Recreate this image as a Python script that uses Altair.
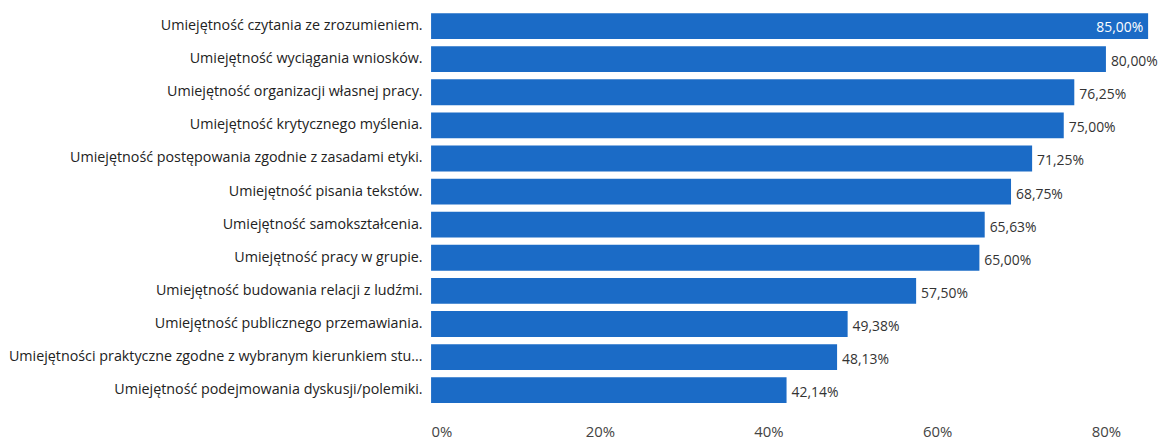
import altair as alt
import pandas as pd

categories = [
    "Umiejętność czytania ze zrozumieniem.",
    "Umiejętność wyciągania wniosków.",
    "Umiejętność organizacji własnej pracy.",
    "Umiejętność krytycznego myślenia.",
    "Umiejętność postępowania zgodnie z zasadami etyki.",
    "Umiejętność pisania tekstów.",
    "Umiejętność samokształcenia.",
    "Umiejętność pracy w grupie.",
    "Umiejętność budowania relacji z ludźmi.",
    "Umiejętność publicznego przemawiania.",
    "Umiejętności praktyczne zgodne z wybranym kierunkiem stu...",
    "Umiejętność podejmowania dyskusji/polemiki.",
]
values = [85.00, 80.00, 76.25, 75.00, 71.25, 68.75, 65.63, 65.00, 57.50, 49.38, 48.13, 42.14]
tick_values = [0, 20, 40, 60, 80]

df = pd.DataFrame({
    "cat": categories,
    "val": values,
    "label": [f"{v:.2f}".replace(".", ",") + "%" for v in values],
})
df["inside"] = df["val"] >= 84

FONT = "Open Sans"
BLUE = "#1B6BC6"

x = alt.X("val:Q", scale=alt.Scale(domain=[0, 85], nice=False),
          axis=alt.Axis(values=tick_values, labelExpr="datum.value + '%'", title=None,
                        domain=False, ticks=False, grid=False, labelPadding=18,
                        labelFont=FONT, labelFontSize=15, labelColor="#444"))
y = alt.Y("cat:N", sort=categories,
          scale=alt.Scale(paddingInner=0.22, paddingOuter=0.11),
          axis=alt.Axis(title=None, domain=False, ticks=False, labelPadding=9,
                        labelLimit=500, labelFont=FONT, labelFontSize=14.4,
                        labelColor="#222"))

bars = alt.Chart(df).mark_bar(color=BLUE).encode(x=x, y=y)

outside = alt.Chart(df).transform_filter("!datum.inside").mark_text(
    align="left", baseline="middle", dx=5, dy=3, font=FONT, fontSize=14, color="#333"
).encode(x="val:Q", y=alt.Y("cat:N", sort=categories), text="label:N")

inside = alt.Chart(df).transform_filter("datum.inside").mark_text(
    align="right", baseline="middle", dx=-5, dy=2, font=FONT, fontSize=14, color="white"
).encode(x="val:Q", y=alt.Y("cat:N", sort=categories), text="label:N")

chart = alt.layer(bars, outside, inside).properties(
    width=722, height=400,
    background="white",
    autosize=alt.AutoSizeParams(type="none"),
    padding={"left": 426, "top": 0, "right": 16, "bottom": 36},
).configure_view(stroke="transparent", strokeWidth=0)

chart.save("out.html", embed_options={"renderer": "svg", "actions": False})
